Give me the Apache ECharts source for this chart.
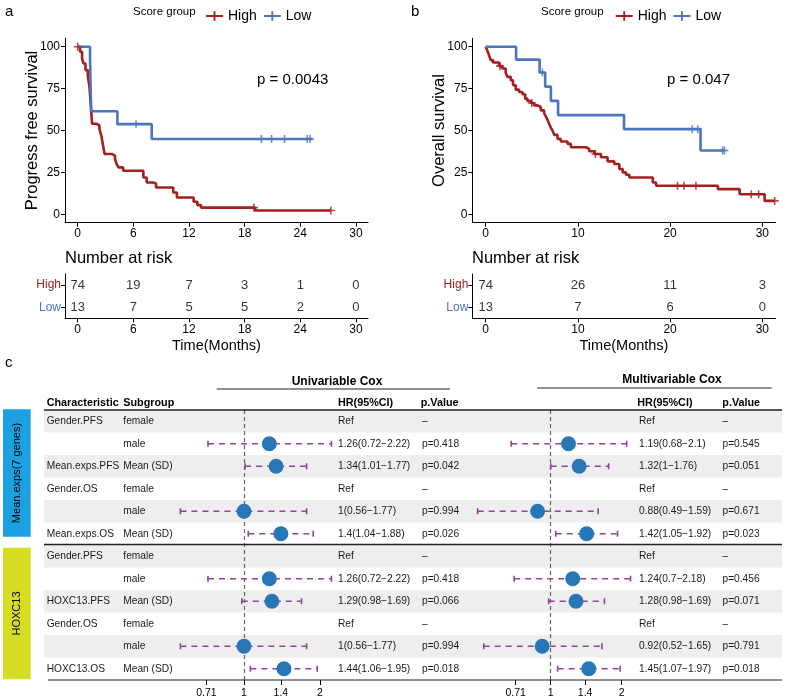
<!DOCTYPE html>
<html lang="en">
<head>
<meta charset="UTF-8">
<title>score group survival</title>
<script src="https://cdn.jsdelivr.net/npm/echarts@6/dist/echarts.min.js"></script>
<style>
  html, body { margin: 0; padding: 0; background: #fff; }
  #main { width: 788px; height: 700px; }
</style>
</head>
<body>
<div id="main"></div>
<script>
// ---- a: progress free survival (months, %) ----
var pfsHighT = [0, 0.25, 0.47, 0.62, 0.84, 1.09, 1.25, 1.35, 1.45, 1.55, 2.05, 2.34, 2.55, 2.73, 2.9, 3.67, 4.02, 4.2, 4.4, 4.9, 7.08, 7.44, 8.1, 8.45, 10.3, 10.7, 12.5, 12.9, 13.3, 19.1, 27.3];
var pfsHighS = [100, 97, 93, 90, 86, 82, 77, 70, 62, 54, 53, 51, 47, 41, 36, 35, 33, 30, 28, 26, 22, 19, 18.4, 16, 13, 10, 7.5, 5.5, 4, 2.3, 2.3];
var pfsHighCens = [0, 19.0, 27.3];
var pfsLowT = [0, 1.33, 1.45, 4.28, 7.98, 25.3];
var pfsLowS = [100, 92.3, 61.5, 53.8, 44.9, 44.9];
var pfsLowCens = [6.29, 19.8, 20.9, 22.3, 24.75, 25.05];

// ---- b: overall survival ----
var osHighT = [0, 0.18, 0.36, 0.54, 0.8, 1.45, 1.81, 2.17, 2.36, 2.72, 2.97, 3.26, 3.62, 3.99, 4.28, 4.53, 4.89, 5.25, 5.62, 5.98, 6.34, 6.52, 6.7, 6.88, 7.07, 7.25, 7.43, 7.79, 8.15, 8.88, 9.24, 10.87, 11.23, 11.78, 12.5, 13.22, 13.95, 14.49, 14.86, 15.22, 15.58, 18.12, 18.48, 25.18, 27.54, 30.25, 31.34];
var osHighS = [100, 97.6, 95, 92, 90.6, 88.4, 87, 84.4, 82, 80, 77, 74.4, 73, 71.6, 69, 67.6, 66.4, 65, 64, 62, 60.4, 58.4, 56.4, 54, 51.6, 50, 47.4, 45, 43.4, 42, 40, 39, 37.6, 36, 34, 31.6, 30, 27, 25, 23.6, 22, 19, 17, 15, 12, 8, 8];
var osHighCens = [1.56, 5.0, 11.9, 20.8, 21.5, 22.8, 28.8, 29.6, 31.34];
var osLowT = [0, 3.3, 5.85, 6.45, 7.07, 7.85, 15.0, 23.3, 25.9];
var osLowS = [100, 92.3, 84.6, 76.2, 67.7, 59.2, 50.8, 38.1, 38.1];
var osLowCens = [6.15, 22.4, 23.0, 25.7, 25.9];

var pTextA = 'p = 0.0043';
var pTextB = 'p = 0.047';

// ---- number at risk ----
var riskTimesA = [0, 6, 12, 18, 24, 30];
var riskHighA = [74, 19, 7, 3, 1, 0];
var riskLowA = [13, 7, 5, 5, 2, 0];
var riskTimesB = [0, 10, 20, 30];
var riskHighB = [74, 26, 11, 3];
var riskLowB = [13, 7, 6, 0];
var survTicks = [0, 25, 50, 75, 100];

// ---- c: cox forest ----
var rowChar = ['Gender.PFS', '', 'Mean.exps.PFS', 'Gender.OS', '', 'Mean.exps.OS', 'Gender.PFS', '', 'HOXC13.PFS', 'Gender.OS', '', 'HOXC13.OS'];
var rowSub = ['female', 'male', 'Mean (SD)', 'female', 'male', 'Mean (SD)', 'female', 'male', 'Mean (SD)', 'female', 'male', 'Mean (SD)'];
var uniHR = [null, 1.26, 1.34, null, 1, 1.4, null, 1.26, 1.29, null, 1, 1.44];
var uniLo = [null, 0.72, 1.01, null, 0.56, 1.04, null, 0.72, 0.98, null, 0.56, 1.06];
var uniHi = [null, 2.22, 1.77, null, 1.77, 1.88, null, 2.22, 1.69, null, 1.77, 1.95];
var uniP = ['–', 'p=0.418', 'p=0.042', '–', 'p=0.994', 'p=0.026', '–', 'p=0.418', 'p=0.066', '–', 'p=0.994', 'p=0.018'];
var multiHR = [null, 1.19, 1.32, null, 0.88, 1.42, null, 1.24, 1.28, null, 0.92, 1.45];
var multiLo = [null, 0.68, 1, null, 0.49, 1.05, null, 0.7, 0.98, null, 0.52, 1.07];
var multiHi = [null, 2.1, 1.76, null, 1.59, 1.92, null, 2.18, 1.69, null, 1.65, 1.97];
var multiP = ['–', 'p=0.545', 'p=0.051', '–', 'p=0.671', 'p=0.023', '–', 'p=0.456', 'p=0.071', '–', 'p=0.791', 'p=0.018'];
var hrTickLabels = ['0.71', '1', '1.4', '2'];

(function () {
    var RED = '#A3201F', BLUE = '#4B75BD';
    var FONT = '"Liberation Sans", Arial, Helvetica, sans-serif';
    var PLUS = 'path://M4.8,0H7.2V4.8H12V7.2H7.2V12H4.8V7.2H0V4.8H4.8Z';
    var LEG = 'path://M0,4H8V0H10V4H18V6H10V10H8V6H0Z';
    var CI_COLOR = '#9440A0', DOT_COLOR = '#2776B8';

    var myChart = echarts.init(document.getElementById('main'));

    function steps(T, S) { return T.map(function (t, i) { return [t, S[i]]; }); }
    function survAt(T, S, t) {
        var s = S[0];
        for (var i = 0; i < T.length; i++) { if (T[i] <= t) s = S[i]; }
        return s;
    }
    function cens(T, S, C) { return C.map(function (t) { return [t, survAt(T, S, t)]; }); }

    var rowIds = rowChar.map(function (d, i) { return String(i); });
    var hrTickPos = hrTickLabels.map(function (s) { return Math.log2(parseFloat(s)); });
    function hrLabel(v) {
        var best = 0;
        hrTickPos.forEach(function (p, i) { if (Math.abs(p - v) < Math.abs(hrTickPos[best] - v)) best = i; });
        return hrTickLabels[best];
    }
    function hrText(hr, lo, hi) { return hr == null ? 'Ref' : hr + '(' + lo + '\u2212' + hi + ')'; }

    // axes helpers
    var black = { color: '#000', width: 1 };
    function timeAxis(grid, min, max, ticks, name) {
        return {
            gridIndex: grid, type: 'value', min: min, max: max,
            axisLine: { show: true, onZero: false, lineStyle: black },
            axisTick: { show: true, customValues: ticks, length: 4, lineStyle: black },
            axisLabel: { customValues: ticks, fontSize: 12, color: '#000', margin: 5 },
            splitLine: { show: false },
            name: name || '', nameLocation: 'middle', nameGap: 20, nameMoveOverlap: false,
            nameTextStyle: { fontSize: 14.5, color: '#000' }
        };
    }
    function survAxis(grid, name) {
        return {
            gridIndex: grid, type: 'value', min: -5, max: 105,
            axisLine: { show: true, onZero: false, lineStyle: black },
            axisTick: { show: true, customValues: survTicks, length: 4, lineStyle: black },
            axisLabel: { customValues: survTicks, fontSize: 12, color: '#000', margin: 5 },
            splitLine: { show: false },
            name: name, nameLocation: 'middle', nameRotate: 90, nameGap: 24, nameMoveOverlap: false,
            nameTextStyle: { fontSize: 16.5, color: '#000' }
        };
    }
    function riskYAxis(grid) {
        return {
            gridIndex: grid, type: 'category', data: ['Low', 'High'],
            axisLine: { show: true, onZero: false, lineStyle: black },
            axisTick: { show: true, alignWithLabel: true, length: 4, lineStyle: black },
            axisLabel: { fontSize: 12, margin: 4, color: function (v) { return v === 'High' ? RED : BLUE; } }
        };
    }
    function hrAxis(grid, min, max) {
        return {
            gridIndex: grid, type: 'value', min: min, max: max,
            axisLine: { show: false, onZero: false },
            axisTick: { show: true, customValues: hrTickPos, length: 5, lineStyle: black },
            axisLabel: { customValues: hrTickPos, fontSize: 10.5, color: '#000', margin: 8, formatter: hrLabel },
            splitLine: { show: false }
        };
    }
    function rowAxis(grid) {
        return { gridIndex: grid, type: 'category', data: rowIds, inverse: true, show: false };
    }

    // series helpers
    function kmLine(name, color, ax, T, S) {
        return {
            name: name, type: 'line', step: 'end', xAxisIndex: ax, yAxisIndex: ax,
            showSymbol: false, data: steps(T, S),
            lineStyle: { color: color, width: 2.6 }, itemStyle: { color: color }
        };
    }
    function kmCens(name, color, ax, T, S, C) {
        return {
            name: name, type: 'scatter', xAxisIndex: ax, yAxisIndex: ax,
            symbol: PLUS, symbolSize: 8, itemStyle: { color: color }, z: 4,
            data: cens(T, S, C)
        };
    }
    function riskSeries(ax, times, high, low) {
        var data = [];
        times.forEach(function (t, i) {
            data.push([t, 'High', high[i]]);
            data.push([t, 'Low', low[i]]);
        });
        return {
            type: 'scatter', xAxisIndex: ax, yAxisIndex: ax, symbolSize: 1,
            itemStyle: { color: 'rgba(0,0,0,0)' }, data: data,
            label: { show: true, position: 'inside', fontSize: 13, color: '#000',
                formatter: function (p) { return p.value[2]; } }
        };
    }
    function ciSeries(ax, lo, hi) {
        var data = [];
        lo.forEach(function (v, i) { if (v != null) data.push([Math.log2(v), Math.log2(hi[i]), i]); });
        return {
            type: 'custom', xAxisIndex: ax, yAxisIndex: ax, z: 3,
            encode: { x: [0, 1], y: 2 }, data: data,
            renderItem: function (params, api) {
                var a = api.coord([api.value(0), api.value(2)]);
                var b = api.coord([api.value(1), api.value(2)]);
                var st = { stroke: CI_COLOR, lineWidth: 1.6 };
                return { type: 'group', children: [
                    { type: 'line', shape: { x1: a[0], y1: a[1], x2: b[0], y2: b[1] },
                      style: { stroke: CI_COLOR, lineWidth: 1.6, lineDash: [6, 5] } },
                    { type: 'line', shape: { x1: a[0], y1: a[1] - 3, x2: a[0], y2: a[1] + 3 }, style: st },
                    { type: 'line', shape: { x1: b[0], y1: b[1] - 3, x2: b[0], y2: b[1] + 3 }, style: st }
                ] };
            }
        };
    }
    function dotSeries(ax, hr) {
        var data = [];
        hr.forEach(function (v, i) { if (v != null) data.push([Math.log2(v), i]); });
        return {
            type: 'scatter', xAxisIndex: ax, yAxisIndex: ax, symbolSize: 15, z: 5,
            itemStyle: { color: DOT_COLOR, opacity: 1 }, data: data,
            markLine: {
                silent: true, symbol: 'none', label: { show: false }, animation: false,
                lineStyle: { color: '#666', width: 1.2, type: [4, 3] },
                data: [{ xAxis: 0 }]
            }
        };
    }

    // table cells (x = column position in table grid units)
    var colX = { ch: 46.7, sub: 123.3, uniHR: 338, uniP: 422, multiHR: 639, multiP: 722.5 };
    var cells = [];
    rowChar.forEach(function (c, i) {
        cells.push([colX.ch, i, c]);
        cells.push([colX.sub, i, rowSub[i]]);
        cells.push([colX.uniHR, i, hrText(uniHR[i], uniLo[i], uniHi[i])]);
        cells.push([colX.uniP, i, uniP[i]]);
        cells.push([colX.multiHR, i, hrText(multiHR[i], multiLo[i], multiHi[i])]);
        cells.push([colX.multiP, i, multiP[i]]);
    });
    var stripes = [];
    rowIds.forEach(function (r, i) { if (i % 2 === 0) stripes.push([44, i]); });

    // decorations: labels, headers, rules, group strips
    function txt(x, y, s, size, opt) {
        opt = opt || {};
        return { type: 'text', x: x, y: y, rotation: opt.rot || 0, z: 10,
            style: { text: s, fontSize: size, fontFamily: FONT, fontWeight: opt.bold ? 'bold' : 'normal',
                fill: '#000', textAlign: opt.align || 'left', textVerticalAlign: 'middle' } };
    }
    function rule(x1, x2, y, w) {
        return { type: 'line', z: 10, shape: { x1: x1, y1: y, x2: x2, y2: y }, style: { stroke: '#222', lineWidth: w || 1 } };
    }
    var graphics = [
        txt(5, 12, 'a', 15), txt(411, 12, 'b', 15), txt(5, 363, 'c', 15),
        txt(133, 12, 'Score group', 11.5), txt(541, 12, 'Score group', 11.5),
        txt(257, 80, pTextA, 15), txt(667, 80, pTextB, 15),
        txt(65, 258, 'Number at risk', 16.5), txt(472, 258, 'Number at risk', 16.5),
        txt(337, 382, 'Univariable Cox', 12, { bold: true, align: 'center' }),
        txt(672, 380, 'Multivariable Cox', 12, { bold: true, align: 'center' }),
        txt(colX.ch, 403, 'Characteristic', 10.8, { bold: true }),
        txt(colX.sub, 403, 'Subgroup', 10.8, { bold: true }),
        txt(colX.uniHR, 403, 'HR(95%CI)', 10.8, { bold: true }),
        txt(420.7, 403, 'p.Value', 10.8, { bold: true }),
        txt(637.3, 403, 'HR(95%CI)', 10.8, { bold: true }),
        txt(722.3, 403, 'p.Value', 10.8, { bold: true }),
        rule(216.7, 450, 389, 1), rule(537.3, 771.7, 388, 1),
        rule(44, 782, 410, 1.3), rule(44, 782, 544.5, 1.3), rule(48, 782, 680, 1.2),
        { type: 'rect', z: 9, shape: { x: 3, y: 409.3, width: 27.7, height: 127.4 }, style: { fill: '#1BA1E2' } },
        { type: 'rect', z: 9, shape: { x: 3, y: 547.7, width: 27.7, height: 131.6 }, style: { fill: '#D6DE23' } },
        txt(16.8, 473, 'Mean.exps(7 genes)', 11, { rot: Math.PI / 2, align: 'center' }),
        txt(16.8, 613.5, 'HOXC13', 11, { rot: Math.PI / 2, align: 'center' })
    ];

    var option = {
        animation: false,
        backgroundColor: '#fff',
        textStyle: { fontFamily: FONT },
        legend: [
            { data: ['High', 'Low'], left: 201, top: 4, icon: LEG, itemWidth: 17, itemHeight: 10, itemGap: 7,
              selectedMode: false, textStyle: { fontSize: 14, color: '#000' } },
            { data: ['High', 'Low'], left: 610.7, top: 4, icon: LEG, itemWidth: 17, itemHeight: 10, itemGap: 7,
              selectedMode: false, textStyle: { fontSize: 14, color: '#000' } }
        ],
        grid: [
            { left: 65, top: 38.3, width: 303, height: 184.4 },
            { left: 472.3, top: 38.3, width: 303.4, height: 184.4 },
            { left: 65, top: 274, width: 303, height: 44.3 },
            { left: 472.3, top: 274, width: 303.4, height: 44.3 },
            { left: 44, top: 410, width: 738, height: 270 },
            { left: 175.6, top: 410, width: 163.4, height: 270 },
            { left: 472.6, top: 410, width: 163.3, height: 270 }
        ],
        xAxis: [
            timeAxis(0, -1.37, 31.3, riskTimesA),
            timeAxis(1, -1.45, 31.45, riskTimesB),
            timeAxis(2, -1.37, 31.3, riskTimesA, 'Time(Months)'),
            timeAxis(3, -1.45, 31.45, riskTimesB, 'Time(Months)'),
            { gridIndex: 4, type: 'value', min: 44, max: 782, show: false },
            hrAxis(5, -0.9, 1.25),
            hrAxis(6, -1.1, 1.2)
        ],
        yAxis: [
            survAxis(0, 'Progress free survival'),
            survAxis(1, 'Overall survival'),
            riskYAxis(2),
            riskYAxis(3),
            rowAxis(4), rowAxis(5), rowAxis(6)
        ],
        graphic: graphics,
        series: [
            kmLine('High', RED, 0, pfsHighT, pfsHighS),
            kmLine('Low', BLUE, 0, pfsLowT, pfsLowS),
            kmCens('High', RED, 0, pfsHighT, pfsHighS, pfsHighCens),
            kmCens('Low', BLUE, 0, pfsLowT, pfsLowS, pfsLowCens),
            kmLine('High', RED, 1, osHighT, osHighS),
            kmLine('Low', BLUE, 1, osLowT, osLowS),
            kmCens('High', RED, 1, osHighT, osHighS, osHighCens),
            kmCens('Low', BLUE, 1, osLowT, osLowS, osLowCens),
            riskSeries(2, riskTimesA, riskHighA, riskLowA),
            riskSeries(3, riskTimesB, riskHighB, riskLowB),
            {
                type: 'custom', xAxisIndex: 4, yAxisIndex: 4, z: 0, silent: true,
                encode: { x: 0, y: 1 }, data: stripes,
                renderItem: function (params, api) {
                    var c = api.coord([api.value(0), api.value(1)]);
                    var h = api.size([0, 1])[1];
                    return { type: 'rect', shape: { x: params.coordSys.x, y: c[1] - h / 2, width: params.coordSys.width, height: h },
                        style: { fill: '#EEEEEE' } };
                }
            },
            {
                type: 'custom', xAxisIndex: 4, yAxisIndex: 4, z: 6, silent: true,
                encode: { x: 0, y: 1 }, data: cells.map(function (c) { return [c[0], c[1]]; }),
                renderItem: function (params, api) {
                    var p = api.coord([api.value(0), api.value(1)]);
                    return { type: 'text', x: p[0], y: p[1],
                        style: { text: cells[params.dataIndex][2], fontSize: 10.2, fontFamily: FONT, fill: '#1a1a1a',
                            textAlign: 'left', textVerticalAlign: 'middle' } };
                }
            },
            ciSeries(5, uniLo, uniHi),
            dotSeries(5, uniHR),
            ciSeries(6, multiLo, multiHi),
            dotSeries(6, multiHR)
        ]
    };

    myChart.setOption(option);
    window.addEventListener('resize', function () { myChart.resize(); });
})();
</script>
</body>
</html>
